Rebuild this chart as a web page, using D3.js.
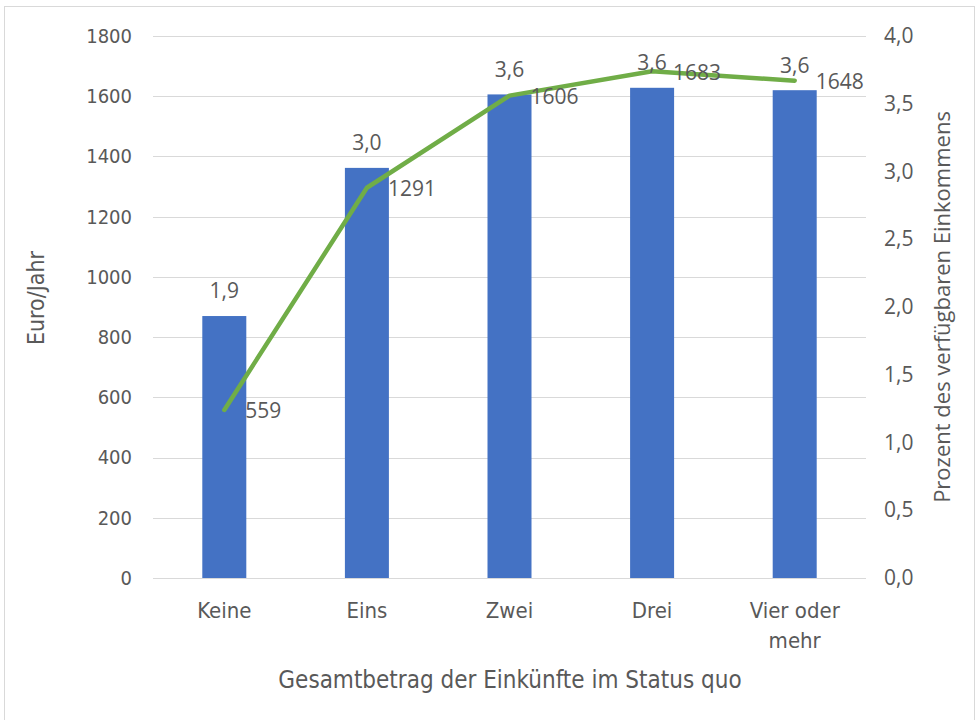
<!DOCTYPE html>
<html>
<head>
<meta charset="utf-8">
<script src="https://cdn.jsdelivr.net/npm/d3@7/dist/d3.min.js"></script>
<style>
  html, body { margin: 0; padding: 0; background: #fff; }
  svg { display: block; }
  .cond { font-family: "Liberation Sans Narrow", "DejaVu Sans Condensed", "Open Sans", sans-serif; }
  .reg { font-family: "Open Sans", "Noto Sans", sans-serif; }
</style>
</head>
<body>
<svg id="chart" width="979" height="720"></svg>
<script>
// Categories: number of income sources in the status quo
const categories = ["Keine", "Eins", "Zwei", "Drei", "Vier oder mehr"];
// Bars on the left axis (Euro/Jahr)
const euroValues = [870, 1362, 1606, 1628, 1620];
// Line on the right axis (percent of disposable income)
const percentValues = [1.24, 2.88, 3.56, 3.74, 3.67];
// Data label texts as printed in the chart
const barLabels = ["1,9", "3,0", "3,6", "3,6", "3,6"];
const lineLabels = ["559", "1291", "1606", "1683", "1648"];
// Axis ticks
const leftTicks = [0, 200, 400, 600, 800, 1000, 1200, 1400, 1600, 1800];
const rightTicks = [0, 0.5, 1, 1.5, 2, 2.5, 3, 3.5, 4];

const svg = d3.select("#chart");
const m = { left: 153, right: 866, top: 36, bottom: 578 };
const textColor = "#595959";

// outer frame
svg.append("rect").attr("x", 4.5).attr("y", 6.5).attr("width", 970).attr("height", 720)
  .attr("fill", "#fff").attr("stroke", "#d9d9d9").attr("stroke-width", 1);

const band = d3.scaleBand().domain(categories).range([m.left, m.right]);
const yL = d3.scaleLinear().domain([0, 1800]).range([m.bottom, m.top]);
const yR = d3.scaleLinear().domain([0, 4]).range([m.bottom, m.top]);
const cx = d => band(d) + band.bandwidth() / 2;

// gridlines
svg.append("g").selectAll("line").data(leftTicks).join("line")
  .attr("x1", m.left).attr("x2", m.right)
  .attr("y1", d => Math.round(yL(d)) + 0.5).attr("y2", d => Math.round(yL(d)) + 0.5)
  .attr("stroke", "#d9d9d9").attr("stroke-width", 1);

// left axis
const axL = svg.append("g").attr("transform", `translate(${m.left},0)`)
  .call(d3.axisLeft(yL).tickValues(leftTicks).tickSize(0).tickPadding(21).tickFormat(d3.format("d")));
axL.select(".domain").remove();
axL.selectAll("text").attr("class", "cond").attr("font-size", 20).attr("fill", textColor);

// right axis
const axR = svg.append("g").attr("transform", `translate(${m.right},0)`)
  .call(d3.axisRight(yR).tickValues(rightTicks).tickSize(0).tickPadding(18)
    .tickFormat(d => d.toFixed(1).replace(".", ",")));
axR.select(".domain").remove();
axR.selectAll("text").attr("class", "reg").attr("font-size", 21).attr("fill", textColor);

// bars
svg.append("g").selectAll("rect").data(categories).join("rect")
  .attr("x", d => cx(d) - 22).attr("width", 44)
  .attr("y", (d, i) => yL(euroValues[i]))
  .attr("height", (d, i) => yL(0) - yL(euroValues[i]))
  .attr("fill", "#4472C4");

// line
const line = d3.line().x(d => cx(d.c)).y(d => yR(d.v));
const pts = categories.map((c, i) => ({ c, v: percentValues[i] }));
svg.append("path").datum(pts).attr("d", line)
  .attr("fill", "none").attr("stroke", "#70AD47").attr("stroke-width", 4.5)
  .attr("stroke-linejoin", "round").attr("stroke-linecap", "round");

// bar labels
svg.append("g").selectAll("text").data(categories).join("text")
  .attr("class", "reg").attr("font-size", 21).attr("fill", textColor)
  .attr("text-anchor", "middle")
  .attr("x", d => cx(d)).attr("y", (d, i) => yL(euroValues[i]) - 25)
  .attr("dy", "0.35em").text((d, i) => barLabels[i]);

// line labels
svg.append("g").selectAll("text").data(categories).join("text")
  .attr("class", "reg").attr("font-size", 21).attr("fill", textColor)
  .attr("x", d => cx(d) + 21).attr("y", (d, i) => yR(percentValues[i]) + 1)
  .attr("dy", "0.35em").text((d, i) => lineLabels[i]);

// category labels
const catG = svg.append("g");
categories.forEach(c => {
  const t = catG.append("text").attr("class", "cond").attr("font-size", 22).attr("fill", textColor)
    .attr("text-anchor", "middle").attr("x", cx(c)).attr("y", 618);
  const parts = c === "Vier oder mehr" ? ["Vier oder", "mehr"] : [c];
  parts.forEach((p, i) => t.append("tspan").attr("x", cx(c)).attr("dy", i === 0 ? 0 : 30).text(p));
});

// axis titles
svg.append("text").attr("class", "cond").attr("font-size", 24).attr("fill", textColor)
  .attr("text-anchor", "middle").attr("x", 510).attr("y", 688)
  .text("Gesamtbetrag der Einkünfte im Status quo");

svg.append("text").attr("class", "cond").attr("font-size", 23).attr("fill", textColor)
  .attr("text-anchor", "middle").attr("transform", "translate(44,298) rotate(-90)")
  .text("Euro/Jahr");

svg.append("text").attr("class", "reg").attr("font-size", 22).attr("fill", textColor)
  .attr("text-anchor", "middle").attr("transform", "translate(950,307) rotate(-90)")
  .text("Prozent des verfügbaren Einkommens");
</script>
</body>
</html>
